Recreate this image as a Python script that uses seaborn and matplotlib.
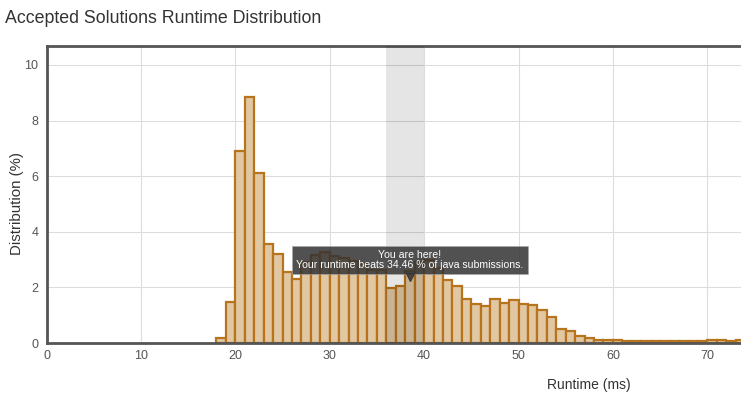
import numpy as np
import pandas as pd
import matplotlib
matplotlib.use("Agg")
import matplotlib.pyplot as plt
import seaborn as sns

sns.set_style("white")
plt.rcParams["font.family"] = ["Liberation Sans", "DejaVu Sans"]

# ── data (runtime bins of 1 ms, distribution in %) ───────────────────────────
runtime_ms = np.arange(18, 74)
distribution = [
    0.18, 1.47, 6.92, 8.86, 6.10, 3.56, 3.19, 2.54, 2.30, 2.90,   # 18-27
    3.17, 3.28, 3.14, 3.05, 2.95, 2.85, 2.62, 2.62, 1.99, 2.06,   # 28-37
    2.60, 2.90, 3.00, 2.70, 2.27, 2.05, 1.58, 1.39, 1.33, 1.58,   # 38-47
    1.45, 1.55, 1.40, 1.38, 1.19, 0.95, 0.52, 0.45, 0.26, 0.19,   # 48-57
    0.12, 0.12, 0.12, 0.08, 0.08, 0.08, 0.06, 0.08, 0.08, 0.08,   # 58-67
    0.07, 0.07, 0.12, 0.12, 0.08, 0.12,                           # 68-73
]
highlight = (36, 40)
your_runtime = 38.5
beats_pct = 34.46
x_ticks = [0, 10, 20, 30, 40, 50, 60, 70]
y_ticks = [0, 2, 4, 6, 8, 10]

df = pd.DataFrame({"runtime": runtime_ms + 0.5, "dist": distribution})

fig = plt.figure(figsize=(7.41, 3.95), dpi=100)
ax = fig.add_axes([0.0628, 0.1316, 0.9372, 0.7519])

sns.barplot(data=df, x="runtime", y="dist", native_scale=True, width=1,
            color="#e1c8a3", saturation=1, edgecolor="#b8741c", linewidth=1.6,
            errorbar=None, ax=ax, zorder=2)

ax.axvspan(*highlight, color="black", alpha=0.1, lw=0, zorder=3)

ax.set_xlim(0, 73.57)
ax.set_ylim(0, 10.68)
ax.set_xticks(x_ticks)
ax.set_xticklabels([str(t) for t in x_ticks])
ax.set_yticks(y_ticks)
ax.grid(True, color="#dddddd", lw=0.8, zorder=0)
ax.set_axisbelow(True)
ax.tick_params(length=0, labelsize=9, labelcolor="#555555")
ax.tick_params(axis="x", pad=5)
ax.tick_params(axis="y", pad=6)

for side in ["left", "top", "bottom"]:
    ax.spines[side].set_color("#555555")
    ax.spines[side].set_linewidth(2)
ax.spines["right"].set_visible(False)

ax.set_xlabel("Runtime (ms)", fontsize=10, color="#333333")
ax.set_ylabel("Distribution (%)", fontsize=10.8, color="#333333")
ax.xaxis.set_label_coords(0.781, -0.118)
ax.yaxis.set_label_coords(-0.033, 0.47)

# tooltip
ax.text(your_runtime, 2.99,
        f"You are here!\nYour runtime beats {beats_pct:.2f} % of java submissions.",
        ha="center", va="center", fontsize=7.6, color="white", linespacing=1.0,
        zorder=5,
        bbox=dict(boxstyle="square,pad=0.4", fc="#333333", ec="#aaaaaa",
                  lw=0.5, alpha=0.85))
ax.plot([your_runtime], [2.38], marker="v", ms=6, color="#333333",
        alpha=0.85, zorder=5, clip_on=False)

fig.text(0.007, 0.952, "Accepted Solutions Runtime Distribution",
         fontsize=12.8, color="#333333", va="center")

fig.savefig("out.png", dpi=100)
